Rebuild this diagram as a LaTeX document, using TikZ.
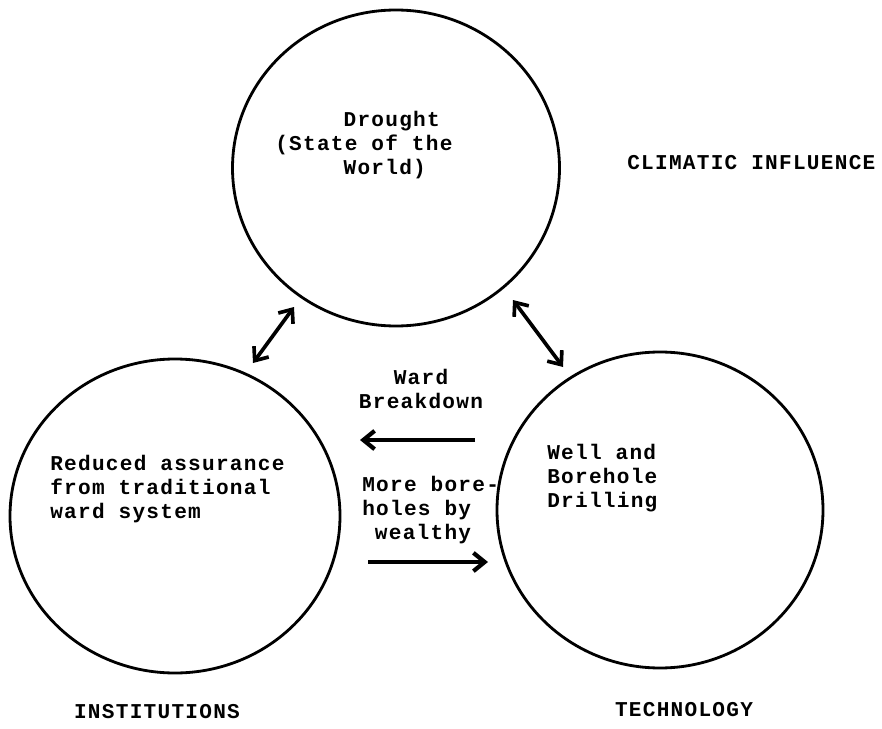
\documentclass[tikz,border=0pt]{standalone}
\usepackage{fontspec}
\newfontfamily\typer[LetterSpace=6]{Liberation Mono}
\usetikzlibrary{arrows.meta, shapes.geometric}

\begin{document}
\begin{tikzpicture}[x=0.025cm, y=-0.025cm,
        ring/.style={ellipse, draw, line width=2pt, inner sep=0pt},
        lbl/.style={font=\typer\bfseries\fontsize{15}{17}\selectfont, inner sep=0pt},
        twoway/.style={{Straight Barb[length=8pt,width=13pt]}-{Straight Barb[length=8pt,width=13pt]}, line width=2.6pt},
        oneway/.style={-{Straight Barb[length=8pt,width=13pt]}, line width=3pt}]
        \useasboundingbox (0,0) rectangle (882,729);
        \node[ring, minimum width=327*0.025cm, minimum height=316*0.025cm] (drought) at (396,168) {};
        \node[ring, minimum width=330*0.025cm, minimum height=314*0.025cm] (inst) at (175,516) {};
        \node[ring, minimum width=326*0.025cm, minimum height=316*0.025cm] (tech) at (660,510) {};
        \node[lbl, anchor=west, align=left] (droughttxt) at (275,145) {\hphantom{(Stat}Drought\\(State of the\\\hphantom{(Stat}World)};
        \node[lbl, anchor=west, align=left] (insttxt) at (50,489) {Reduced assurance\\from traditional\\ward system};
        \node[lbl, anchor=west, align=left] (techtxt) at (547,478) {Well and\\Borehole\\Drilling};
        \node[lbl, align=center] (ward) at (421,389) {Ward\\Breakdown};
        \node[lbl, anchor=west, align=left] (bore) at (362,510) {More bore-\\holes by\\\hphantom{x}wealthy};
        \node[lbl, anchor=west] (climate) at (627,163) {CLIMATIC INFLUENCE};
        \node[lbl] (insttitle) at (157,712) {INSTITUTIONS};
        \node[lbl] (techtitle) at (684,710) {TECHNOLOGY};
        \coordinate (a1) at (253,363);
        \coordinate (a2) at (294,307);
        \coordinate (b1) at (513,300);
        \coordinate (b2) at (563,367);
        \coordinate (c1) at (475,440);
        \coordinate (c2) at (360,440);
        \coordinate (d1) at (368,562);
        \coordinate (d2) at (488,562);
        \draw[twoway] (a1) -- (a2);
        \draw[twoway] (b1) -- (b2);
        \draw[oneway] (c1) -- (c2);
        \draw[oneway] (d1) -- (d2);
    \end{tikzpicture}
\end{document}
